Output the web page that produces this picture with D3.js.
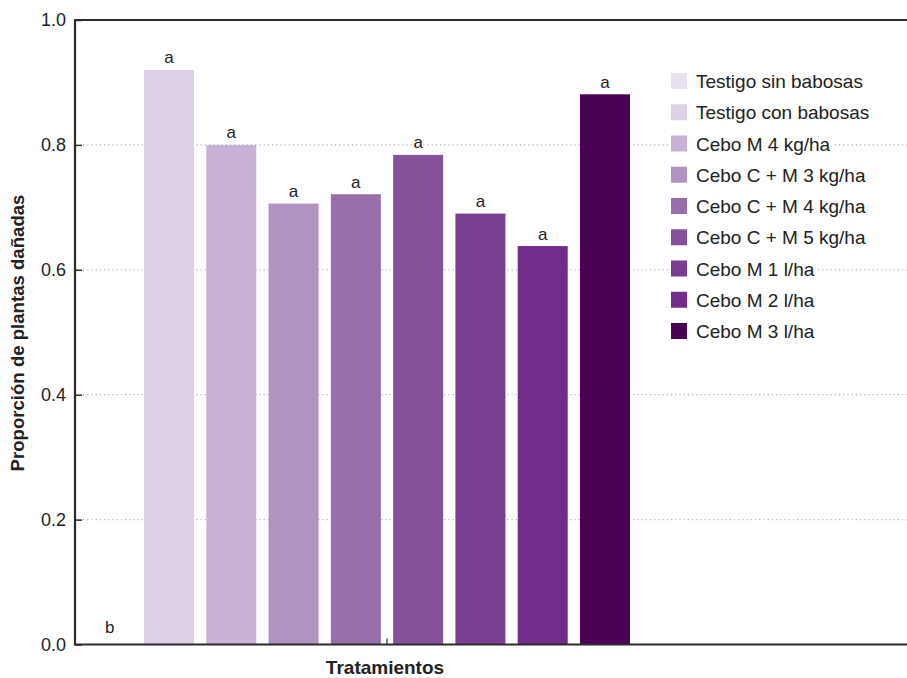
<!DOCTYPE html>
<html>
<head>
<meta charset="utf-8">
<script src="https://cdn.jsdelivr.net/npm/d3@7"></script>
<style>
  html, body { margin: 0; padding: 0; background: #fff; }
  svg { display: block; font-family: "Liberation Sans", Arial, sans-serif; }
</style>
</head>
<body>
<svg id="chart" width="907" height="678"></svg>
<script>
// Treatments, proportion of damaged plants and significance letters
const treatments = [
  "Testigo sin babosas",
  "Testigo con babosas",
  "Cebo M 4 kg/ha",
  "Cebo C + M 3 kg/ha",
  "Cebo C + M 4 kg/ha",
  "Cebo C + M 5 kg/ha",
  "Cebo M 1 l/ha",
  "Cebo M 2 l/ha",
  "Cebo M 3 l/ha"
];
const proportions = [0.0, 0.92, 0.80, 0.706, 0.721, 0.784, 0.690, 0.638, 0.881];
const letters = ["b", "a", "a", "a", "a", "a", "a", "a", "a"];
const colors = ["#e8e0ef", "#ddd1e6", "#c7b2d6", "#b192c3", "#9770ab", "#84519a", "#7a3e91", "#722c8a", "#4b0156"];
const yTicks = [0.0, 0.2, 0.4, 0.6, 0.8, 1.0];

const svg = d3.select("#chart");
const plotLeft = 75, plotRight = 907, plotTop = 20, plotBottom = 644.5;
const dark = "#2b2b2b";
const ink = "#222";

const y = d3.scaleLinear().domain([0, 1]).range([plotBottom, plotTop]);
const x = d3.scaleBand()
  .domain(treatments)
  .range([81.7, 630])
  .paddingInner(0.197)
  .paddingOuter(0);

// dotted gridlines
svg.append("g")
  .selectAll("line")
  .data(yTicks.filter(t => t > 0 && t < 1))
  .join("line")
  .attr("x1", plotLeft + 8).attr("x2", plotRight)
  .attr("y1", d => y(d)).attr("y2", d => y(d))
  .attr("stroke", "#b5b5b5")
  .attr("stroke-width", 1.2)
  .attr("stroke-dasharray", "1.2,3");

// bars
svg.append("g")
  .selectAll("rect")
  .data(treatments)
  .join("rect")
  .attr("x", d => x(d))
  .attr("width", x.bandwidth())
  .attr("y", (d, i) => y(proportions[i]))
  .attr("height", (d, i) => y(0) - y(proportions[i]))
  .attr("fill", (d, i) => colors[i]);

// significance letters
svg.append("g")
  .selectAll("text")
  .data(treatments)
  .join("text")
  .attr("x", (d, i) => x(d) + x.bandwidth() / 2 + (proportions[i] === 0 ? 3 : 0))
  .attr("y", (d, i) => y(proportions[i]) - (proportions[i] === 0 ? 12 : 6.5))
  .attr("text-anchor", "middle")
  .attr("font-size", 17)
  .attr("fill", ink)
  .text((d, i) => letters[i]);

// y axis
const yAxis = d3.axisLeft(y)
  .tickValues(yTicks)
  .tickFormat(d3.format(".1f"))
  .tickSize(-7)
  .tickPadding(9);
const yg = svg.append("g").attr("transform", `translate(${plotLeft},0)`).call(yAxis);
yg.select(".domain").remove();
yg.selectAll(".tick line").attr("stroke", dark).attr("stroke-width", 1.5);
yg.selectAll(".tick text").attr("font-size", 18).attr("fill", ink)
  .attr("font-family", "Liberation Sans, Arial, sans-serif");

// frame: left, top and bottom lines
svg.append("line").attr("x1", plotLeft).attr("x2", plotLeft).attr("y1", plotTop).attr("y2", plotBottom)
  .attr("stroke", dark).attr("stroke-width", 2.2);
svg.append("line").attr("x1", plotLeft - 1).attr("x2", plotRight).attr("y1", plotTop).attr("y2", plotTop)
  .attr("stroke", dark).attr("stroke-width", 2.2);
svg.append("line").attr("x1", plotLeft - 1).attr("x2", plotRight).attr("y1", plotBottom).attr("y2", plotBottom)
  .attr("stroke", dark).attr("stroke-width", 2.2);
// single category tick on the x axis
svg.append("line").attr("x1", 387).attr("x2", 387).attr("y1", plotBottom).attr("y2", plotBottom - 6)
  .attr("stroke", dark).attr("stroke-width", 1.2);

// axis titles
svg.append("text")
  .attr("transform", `translate(24,333) rotate(-90)`)
  .attr("text-anchor", "middle")
  .attr("font-size", 18.6).attr("font-weight", "bold").attr("fill", ink)
  .text("Proporción de plantas dañadas");
svg.append("text")
  .attr("x", 385).attr("y", 674)
  .attr("text-anchor", "middle")
  .attr("font-size", 19).attr("font-weight", "bold").attr("fill", ink)
  .text("Tratamientos");

// legend
const legend = svg.append("g").attr("transform", "translate(671,81)");
const items = legend.selectAll("g")
  .data(treatments)
  .join("g")
  .attr("transform", (d, i) => `translate(0,${i * 31.25})`);
items.each(function (d, i) {
  const g = d3.select(this);
  const t = g.append("text")
    .attr("x", 25).attr("y", 7)
    .attr("font-size", 19).attr("fill", ink)
    .text(d);
  const w = t.node().getComputedTextLength();
  g.insert("rect", "text")
    .attr("x", -2).attr("y", -12).attr("width", w + 30).attr("height", 24)
    .attr("fill", "#fff");
  g.insert("rect", "text")
    .attr("x", 0).attr("y", -8).attr("width", 16).attr("height", 16)
    .attr("fill", colors[i]);
});
</script>
</body>
</html>
